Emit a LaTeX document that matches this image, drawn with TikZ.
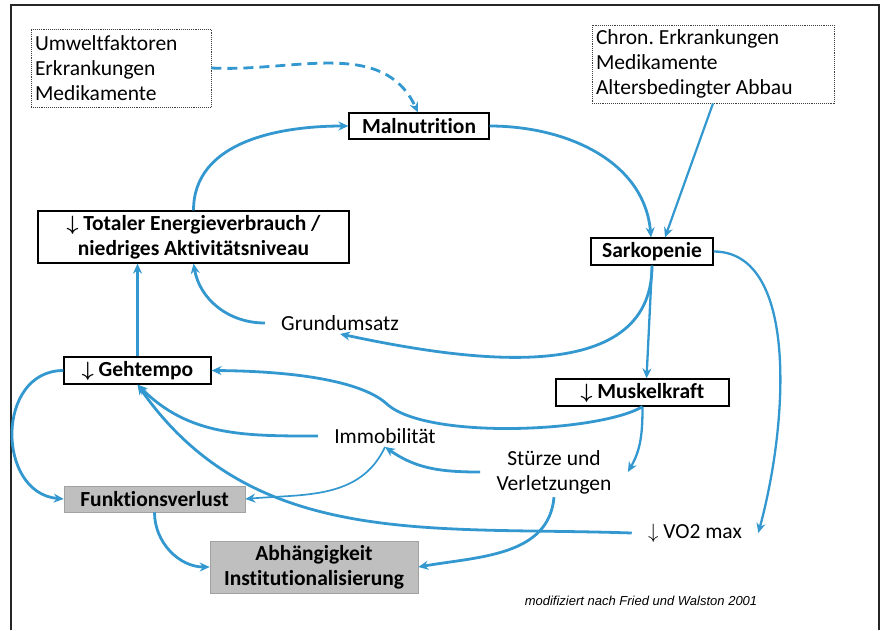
\documentclass[tikz,border=0pt]{standalone}
\usepackage{fontspec}
\setmainfont[Ligatures=NoCommon]{Carlito}
\newfontfamily\notefont{Liberation Sans}
\usepackage{tikz}
\usetikzlibrary{arrows.meta}
\definecolor{flow}{RGB}{52, 152, 208}
\definecolor{shade}{RGB}{191, 191, 191}
\newcommand{\less}{{\boldmath$\downarrow$}}

\begin{document}
\fontsize{21.5}{25}\selectfont\frenchspacing
\begin{tikzpicture}[x=1pt, y=-1pt, thick,
  box/.style={draw=black, line width=1.2pt, font=\bfseries, align=center, inner sep=0pt},
  greybox/.style={box, fill=shade, draw=shade!85!black, line width=0.6pt},
  infobox/.style={draw=black!75, densely dotted, line width=0.9pt, align=flush left,
    inner xsep=4pt, inner ysep=0pt, minimum height=78},
  plaintext/.style={inner xsep=16pt, inner ysep=3pt, align=center},
  flowline/.style={draw=flow, line width=2.8pt, -{Stealth[length=10pt, width=9pt]}},
  thinline/.style={flowline, line width=1.7pt}]

  \useasboundingbox (0,0) rectangle (885,630);
  \draw[line width=1.2pt, black!85] (11,630) -- (11,5) -- (879,5) -- (879,630);

  % boxes
  \node[infobox, text width=172] (env) at (121,68) {Umweltfaktoren\\Erkrankungen\\Medikamente};
  \node[infobox, text width=234] (chron) at (713,64) {Chron. Erkrankungen\\Medikamente\\Altersbedingter Abbau};
  \node[box, minimum width=140, minimum height=26] (mal) at (419,126) {Malnutrition};
  \node[box, minimum width=311, minimum height=52] (energy) at (193.5,237)
    {\less{} Totaler Energieverbrauch /\\niedriges Aktivitätsniveau};
  \node[box, minimum width=122, minimum height=27] (sark) at (652,251.5) {Sarkopenie};
  \node[plaintext] (grund) at (340,323) {Grundumsatz};
  \node[box, minimum width=147, minimum height=27] (geh) at (137.5,370.5) {\less{} Gehtempo};
  \node[box, minimum width=173, minimum height=27] (musk) at (642.5,392.5) {\less{} Muskelkraft};
  \node[plaintext] (immob) at (385,436) {Immobilität};
  \node[plaintext] (fall) at (554,472) {Stürze und\\Verletzungen};
  \node[greybox, minimum width=181, minimum height=26] (funk) at (154.5,499) {Funktionsverlust};
  \node[plaintext] (vo2) at (695,533) {$\downarrow$ VO2 max};
  \node[greybox, minimum width=208, minimum height=52] (abh) at (314,567)
    {Abhängigkeit\\Institutionalisierung};
  \node (note) at (641,601) {\notefont\itshape\fontsize{13}{15}\selectfont modifiziert nach Fried und Walston 2001};

  % arrows
  \draw[flowline, dash pattern=on 10pt off 6pt] (env.east) to[out=-3, in=115] ([xshift=-1]mal.north);
  \draw[flowline] (energy.north) to[out=90, in=180] (mal.west);
  \draw[flowline] (mal.east) to[out=0, in=95] ([xshift=-1]sark.north);
  \draw[flowline, line width=2.2pt] (chron.south) -- ([xshift=13]sark.north);
  \draw[flowline] (sark.south) to[out=-90, in=-12] (grund.south);
  \draw[flowline] (grund.west) to[out=180, in=-80] (energy.south);
  \draw[flowline] (geh.north) -- (geh.north |- energy.south);
  \draw[flowline, line width=2.3pt] (sark.south) -- ([xshift=4]musk.north);
  \draw[flowline, line width=2.3pt] (sark.east) .. controls +(85,0) and +(30,-110) .. (vo2.east);
  \draw[flowline] (musk.south) .. controls (600,432) and (430,440) .. (388,405)
    .. controls (360,378) and (280,371) .. (geh.east);
  \draw[flowline, line width=2.3pt] (musk.south) to[out=-90, in=60] (fall.east);
  \draw[flowline] (immob.west) to[out=180, in=-45] (geh.south);
  \draw[flowline] (vo2.west) to[out=178, in=-55] (geh.south);
  \draw[flowline] (fall.west) to[out=180, in=-35] (immob.south);
  \draw[thinline] (immob.south) to[out=-115, in=5] (funk.east);
  \draw[flowline] (geh.west) to[out=180, in=175, looseness=1.35] (funk.west);
  \draw[flowline] (funk.south) to[out=-90, in=180] (abh.west);
  \draw[flowline] (fall.south) to[out=-95, in=10] (abh.east);
\end{tikzpicture}
\end{document}
